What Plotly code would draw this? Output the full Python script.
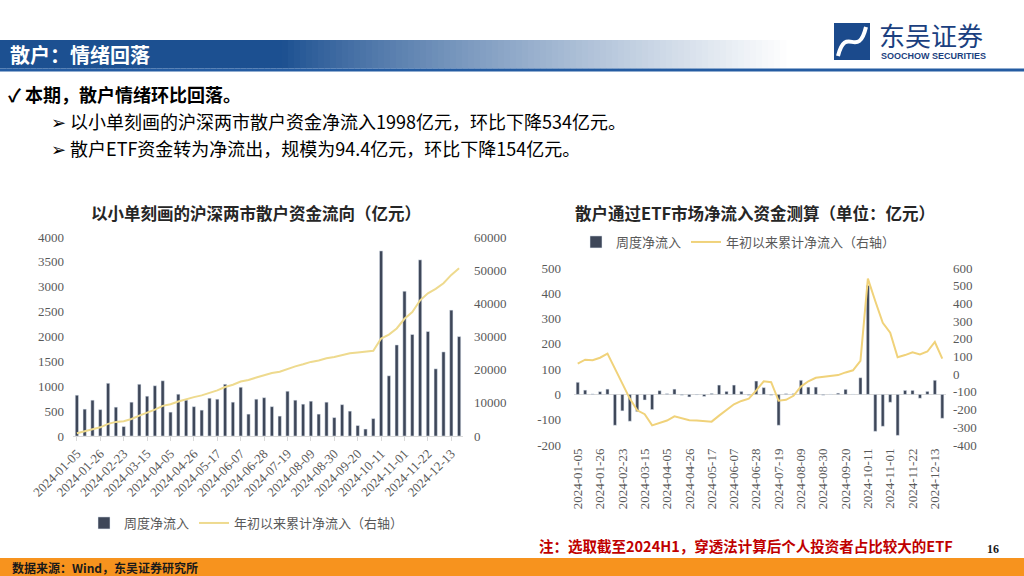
import plotly.graph_objects as go

W, H = 1024, 576

# ---------------- data ----------------
dates = ["2024-01-05", "2024-01-12", "2024-01-19", "2024-01-26", "2024-02-02", "2024-02-09",
         "2024-02-23", "2024-03-01", "2024-03-08", "2024-03-15", "2024-03-22", "2024-03-29",
         "2024-04-05", "2024-04-12", "2024-04-19", "2024-04-26", "2024-05-03", "2024-05-10",
         "2024-05-17", "2024-05-24", "2024-05-31", "2024-06-07", "2024-06-14", "2024-06-21",
         "2024-06-28", "2024-07-05", "2024-07-12", "2024-07-19", "2024-07-26", "2024-08-02",
         "2024-08-09", "2024-08-16", "2024-08-23", "2024-08-30", "2024-09-06", "2024-09-13",
         "2024-09-20", "2024-09-27", "2024-10-04", "2024-10-11", "2024-10-18", "2024-10-25",
         "2024-11-01", "2024-11-08", "2024-11-15", "2024-11-22", "2024-11-29", "2024-12-06",
         "2024-12-13", "2024-12-20"]
tick_dates = dates[::3]

# left chart: retail flow (small orders), 亿元
retail_weekly = [820, 540, 720, 530, 1060, 580, 190, 680, 1040, 800, 1010, 1110, 480, 840, 720,
                 590, 520, 760, 740, 1040, 680, 980, 440, 740, 770, 590, 400, 900, 720, 640,
                 700, 440, 680, 370, 630, 500, 210, 140, 350, 3720, 1210, 1830, 2910, 2040,
                 3540, 2100, 1350, 1690, 2530, 1998]
retail_cum = [820, 1370, 2080, 2610, 3670, 4250, 4440, 5120, 6160, 6960, 7970, 9080, 9560,
              10410, 11130, 11720, 12240, 13010, 13740, 14780, 15470, 16440, 16880, 17620,
              18390, 18980, 19380, 20280, 21000, 21640, 22340, 22780, 23460, 23830, 24460,
              24960, 25170, 25310, 25670, 29390, 30590, 32420, 35330, 37370, 40910, 43010,
              44360, 46060, 48570, 50570]

# right chart: retail ETF net inflow, 亿元
etf_weekly = [48, 17, 2, 11, 21, -122, -65, -106, -68, -22, -60, 15, 3, 21, -3, -10, -2, -8,
              4, 37, 12, 37, 12, -3, 53, 27, -3, -122, 3, 3, 56, 29, 29, -3, 1, 5, 20, 1, 66,
              431, -146, -126, -31, -162, 16, 16, -15, 12, 56, -94.4]
etf_cum = [60, 82, 79, 93, 116, 32, -53, -138, -204, -226, -289, -274, -262, -238, -251, -260,
           -262, -266, -268, -234, -204, -170, -151, -138, -91, -40, -45, -150, -145, -122, -70,
           -40, -20, -15, -12, -5, 10, 22, 75, 540, 412, 290, 235, 96, 108, 124, 112, 128, 182, 88]

left_ticks = [0, 500, 1000, 1500, 2000, 2500, 3000, 3500, 4000]
left_ticks2 = [0, 10000, 20000, 30000, 40000, 50000, 60000]
right_ticks = [-200, -100, 0, 100, 200, 300, 400, 500]
right_ticks2 = [-400, -300, -200, -100, 0, 100, 200, 300, 400, 500, 600]

# ---------------- styles ----------------
BAR = "#3E4759"
LINE_L = "#EEDA8E"
LINE_R = "#F0D27A"
GREY = "#595959"
NUM_FONT = "Liberation Serif, Noto Sans CJK SC, serif"
CJK = "Noto Sans CJK SC, sans-serif"


def X(px):
    return px / W


def Y(py):
    return 1 - py / H


fig = go.Figure()

fig.add_trace(go.Bar(x=dates, y=retail_weekly, name="周度净流入", marker_color=BAR,
                     xaxis="x", yaxis="y", legend="legend"))
fig.add_trace(go.Scatter(x=dates, y=retail_cum, name="年初以来累计净流入（右轴）", mode="lines",
                         line=dict(color=LINE_L, width=2), xaxis="x", yaxis="y2", legend="legend"))
fig.add_trace(go.Bar(x=dates, y=etf_weekly, name="周度净流入", marker_color=BAR,
                     xaxis="x3", yaxis="y3", legend="legend2"))
fig.add_trace(go.Scatter(x=dates, y=etf_cum, name="年初以来累计净流入（右轴）", mode="lines",
                         line=dict(color=LINE_R, width=2), xaxis="x3", yaxis="y4", legend="legend2"))

tickfont = dict(family=NUM_FONT, size=13, color=GREY)

fig.update_layout(
    width=W, height=H, margin=dict(l=0, r=0, t=0, b=0, autoexpand=False),
    paper_bgcolor="white", plot_bgcolor="rgba(0,0,0,0)",
    bargap=0.58, showlegend=True,
    xaxis=dict(domain=[X(73), X(463)], anchor="y", type="category", range=[-0.5, 49.5],
               tickmode="array", tickvals=tick_dates, ticktext=tick_dates, tickangle=-45,
               tickfont=dict(family=NUM_FONT, size=13, color=GREY), automargin=False,
               showline=True, linecolor="#D9D9D9", linewidth=1,
               ticks="outside", ticklen=4, tickcolor="#D9D9D9", showgrid=False),
    yaxis=dict(domain=[Y(436), Y(237)], anchor="x", range=[0, 4000], tickmode="array",
               tickvals=left_ticks, ticktext=[str(v) for v in left_ticks], automargin=False,
               showgrid=False, zeroline=False, tickfont=tickfont, ticklabelstandoff=8),
    yaxis2=dict(overlaying="y", side="right", anchor="x", range=[0, 60000], tickmode="array",
                tickvals=left_ticks2, ticktext=[str(v) for v in left_ticks2], automargin=False,
                showgrid=False, zeroline=False, tickfont=tickfont, ticklabelstandoff=10),
    xaxis3=dict(domain=[X(574), X(946)], anchor="y3", type="category", range=[-0.5, 49.5],
                tickmode="array", tickvals=tick_dates, ticktext=tick_dates, tickangle=-90,
                tickfont=dict(family=NUM_FONT, size=13, color=GREY), automargin=False,
                showline=False, ticks="", showgrid=False),
    yaxis3=dict(domain=[Y(445), Y(268)], anchor="x3", range=[-200, 500], tickmode="array",
                tickvals=right_ticks, ticktext=[str(v) for v in right_ticks], automargin=False,
                showgrid=False, zeroline=True, zerolinecolor="#D9D9D9", zerolinewidth=1,
                tickfont=tickfont, ticklabelstandoff=12),
    yaxis4=dict(overlaying="y3", side="right", anchor="x3", range=[-400, 600], tickmode="array",
                tickvals=right_ticks2, ticktext=[str(v) for v in right_ticks2], automargin=False,
                showgrid=False, zeroline=False, tickfont=tickfont, ticklabelstandoff=6),
    legend=dict(x=X(84), y=Y(523), xanchor="left", yanchor="middle", orientation="h",
                font=dict(family=CJK, size=13, color=GREY), bgcolor="rgba(0,0,0,0)",
                itemwidth=30),
    legend2=dict(x=X(576), y=Y(242), xanchor="left", yanchor="middle", orientation="h",
                 font=dict(family=CJK, size=13, color=GREY), bgcolor="rgba(0,0,0,0)",
                 itemwidth=30),
)

shapes = []
# header gradient band
dark = (28, 80, 145)
step = 6
for x0 in range(0, 786, step):
    t = max(0.0, (x0 - 280) / (785 - 280))
    t = min(1.0, t) ** 0.85
    c = tuple(int(dark[i] * (1 - t) + 255 * t) for i in range(3))
    shapes.append(dict(type="rect", xref="paper", yref="paper", x0=X(x0), x1=X(x0 + step + 0.5),
                       y0=Y(68.5), y1=Y(40), line=dict(width=0),
                       fillcolor="rgb(%d,%d,%d)" % c, layer="below"))
shapes.append(dict(type="rect", xref="paper", yref="paper", x0=0, x1=1, y0=Y(71.5), y1=Y(68.5),
                   line=dict(width=0), fillcolor="rgb(36,92,162)"))
# logo icon
shapes.append(dict(type="rect", xref="paper", yref="paper", x0=X(834), x1=X(870), y0=Y(60), y1=Y(23),
                   line=dict(width=0), fillcolor="#1B4A8C"))
path = "M %f,%f C %f,%f %f,%f %f,%f" % (X(838), Y(56), X(846), Y(24), X(858), Y(60), X(866), Y(27))
shapes.append(dict(type="path", xref="paper", yref="paper", path=path,
                   line=dict(color="white", width=4)))
# footer band
shapes.append(dict(type="rect", xref="paper", yref="paper", x0=0, x1=1, y0=0, y1=Y(558),
                   line=dict(width=0), fillcolor="#F7931E"))
fig.update_layout(shapes=shapes)

ann = []


def text(x, y, s, size, color="black", family=CJK, xanchor="left", pad=1):
    ann.append(dict(x=X(x), y=Y(y), xref="paper", yref="paper", text=s, showarrow=False,
                    xanchor=xanchor, yanchor="middle", borderpad=pad,
                    font=dict(family=family, size=size, color=color)))


text(8, 54, "<b>散户：情绪回落</b>", 20, "white")
text(877, 35, "东吴证券", 26, "#1B3F80")
text(879, 56, "<b>SOOCHOW SECURITIES</b>", 9, "#1B3F80", "Liberation Sans Narrow, Liberation Sans, sans-serif")
text(7, 94, "<b>✓ 本期，散户情绪环比回落。</b>", 18, pad=0)
text(50, 121, "➢ 以小单刻画的沪深两市散户资金净流入1998亿元，环比下降534亿元。", 18, pad=0)
text(50, 148, "➢ 散户ETF资金转为净流出，规模为94.4亿元，环比下降154亿元。", 18, pad=0)
text(256, 213, "<b>以小单刻画的沪深两市散户资金流向（亿元）</b>", 16.5, "#262626", CJK, "center")
text(755, 213, "<b>散户通过ETF市场净流入资金测算（单位：亿元）</b>", 16.5, "#262626", CJK, "center")
text(537, 545, "<b>注：选取截至2024H1，穿透法计算后个人投资者占比较大的ETF</b>", 14.5, "#C00000")
text(993, 549, "<b>16</b>", 12, "#1a1a1a", NUM_FONT, "center")
text(10, 567, "<b>数据来源：Wind，东吴证券研究所</b>", 12, "#1a1a1a")
fig.update_layout(annotations=ann)

fig.write_html("out.html")
